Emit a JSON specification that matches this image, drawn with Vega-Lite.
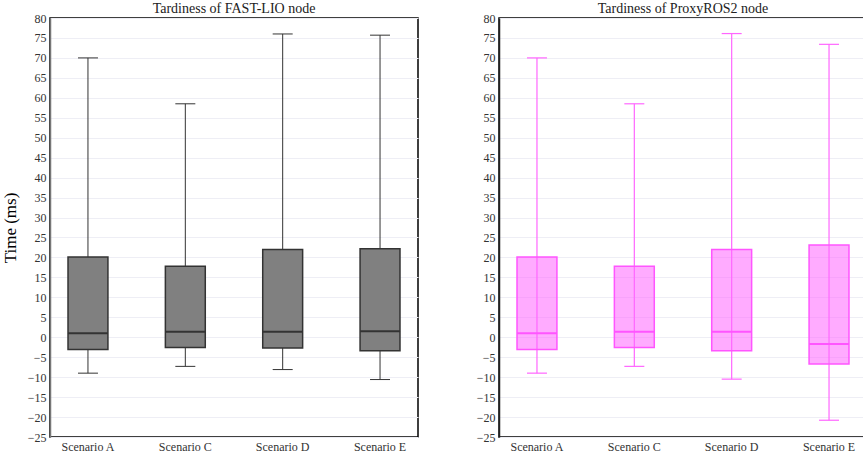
{
  "$schema": "https://vega.github.io/schema/vega-lite/v6.json",
  "padding": {"left": 0, "top": 1, "right": 0, "bottom": 0},
  "data": {
    "values": [
      {"node": "FAST-LIO", "scenario": "Scenario A", "lo": -9.0, "q1": -3.1, "med": 1.0, "q3": 20.1, "hi": 70.0},
      {"node": "FAST-LIO", "scenario": "Scenario C", "lo": -7.3, "q1": -2.6, "med": 1.4, "q3": 17.8, "hi": 58.5},
      {"node": "FAST-LIO", "scenario": "Scenario D", "lo": -8.1, "q1": -2.7, "med": 1.4, "q3": 22.0, "hi": 76.0},
      {"node": "FAST-LIO", "scenario": "Scenario E", "lo": -10.6, "q1": -3.4, "med": 1.5, "q3": 22.2, "hi": 75.7},
      {"node": "ProxyROS2", "scenario": "Scenario A", "lo": -9.0, "q1": -3.1, "med": 1.0, "q3": 20.1, "hi": 70.0},
      {"node": "ProxyROS2", "scenario": "Scenario C", "lo": -7.3, "q1": -2.6, "med": 1.4, "q3": 17.8, "hi": 58.5},
      {"node": "ProxyROS2", "scenario": "Scenario D", "lo": -10.5, "q1": -3.4, "med": 1.4, "q3": 22.0, "hi": 76.1},
      {"node": "ProxyROS2", "scenario": "Scenario E", "lo": -20.8, "q1": -6.7, "med": -1.7, "q3": 23.1, "hi": 73.4}
    ]
  },
  "spacing": 56,
  "hconcat": [
    {
      "title": {"text": "Tardiness of FAST-LIO node"},
      "width": 368,
      "height": 419,
      "transform": [{"filter": "datum.node == 'FAST-LIO'"}],
      "encoding": {
        "x": {"field": "scenario", "type": "nominal", "title": null,
              "scale": {"paddingInner": 0.59, "paddingOuter": 0.185},
              "axis": {"labelAngle": 0, "ticks": false, "domain": false, "labelPadding": 4}}
      },
      "layer": [
        {"mark": {"type": "rule", "color": "#333333", "strokeWidth": 1},
         "encoding": {"y": {"field": "lo", "type": "quantitative", "title": "Time (ms)",
                            "scale": {"domain": [-25, 80], "nice": false},
                            "axis": {"tickCount": 40, "domainColor": "#777777", "values": [-25,-20,-15,-10,-5,0,5,10,15,20,25,30,35,40,45,50,55,60,65,70,75,80]}},
                      "y2": {"field": "hi"}}},
        {"mark": {"type": "tick", "color": "#333333", "size": 20, "thickness": 1, "opacity": 1},
         "encoding": {"y": {"field": "lo", "type": "quantitative"}}},
        {"mark": {"type": "tick", "color": "#333333", "size": 20, "thickness": 1, "opacity": 1},
         "encoding": {"y": {"field": "hi", "type": "quantitative"}}},
        {"mark": {"type": "bar", "fill": "#808080", "stroke": "#333333", "strokeWidth": 1.5, "opacity": 1},
         "encoding": {"y": {"field": "q1", "type": "quantitative"}, "y2": {"field": "q3"}}},
        {"mark": {"type": "tick", "color": "#333333", "size": 40, "thickness": 2, "opacity": 1},
         "encoding": {"y": {"field": "med", "type": "quantitative"}}}
      ]
    },
    {
      "title": {"text": "Tardiness of ProxyROS2 node"},
      "width": 368,
      "height": 419,
      "transform": [{"filter": "datum.node == 'ProxyROS2'"}],
      "encoding": {
        "x": {"field": "scenario", "type": "nominal", "title": null,
              "scale": {"paddingInner": 0.59, "paddingOuter": 0.185},
              "axis": {"labelAngle": 0, "ticks": false, "domain": false, "labelPadding": 4}}
      },
      "layer": [
        {"mark": {"type": "rule", "color": "#ff66ff", "strokeWidth": 1.2},
         "encoding": {"y": {"field": "lo", "type": "quantitative", "title": null,
                            "scale": {"domain": [-25, 80], "nice": false},
                            "axis": {"tickCount": 40, "domainColor": "#222222", "values": [-25,-20,-15,-10,-5,0,5,10,15,20,25,30,35,40,45,50,55,60,65,70,75,80]}},
                      "y2": {"field": "hi"}}},
        {"mark": {"type": "tick", "color": "#ff66ff", "size": 20, "thickness": 1.2, "opacity": 1},
         "encoding": {"y": {"field": "lo", "type": "quantitative"}}},
        {"mark": {"type": "tick", "color": "#ff66ff", "size": 20, "thickness": 1.2, "opacity": 1},
         "encoding": {"y": {"field": "hi", "type": "quantitative"}}},
        {"mark": {"type": "bar", "fill": "#ff66ff", "fillOpacity": 0.55, "stroke": "#ff55ff", "strokeWidth": 1.5},
         "encoding": {"y": {"field": "q1", "type": "quantitative"}, "y2": {"field": "q3"}}},
        {"mark": {"type": "tick", "color": "#ff55ff", "size": 40, "thickness": 2, "opacity": 1},
         "encoding": {"y": {"field": "med", "type": "quantitative"}}}
      ]
    }
  ],
  "config": {
    "font": "Liberation Serif",
    "view": {"stroke": "#000000", "strokeWidth": 1.5},
    "title": {"font": "Liberation Serif", "fontSize": 14, "fontWeight": "normal", "color": "#222222", "offset": -4},
    "axis": {
      "labelFont": "Liberation Serif", "labelFontSize": 12, "labelColor": "#333333", "labelOverlap": false,
      "titleFont": "Liberation Serif", "titleFontSize": 17, "titleFontWeight": "normal", "titleColor": "#000000",
      "gridColor": "#eeeef5", "gridWidth": 1
    },
    "axisY": {"ticks": false, "labelPadding": 4, "domain": true, "domainWidth": 1.5, "titlePadding": 8},
    "axisX": {"grid": false}
  }
}
